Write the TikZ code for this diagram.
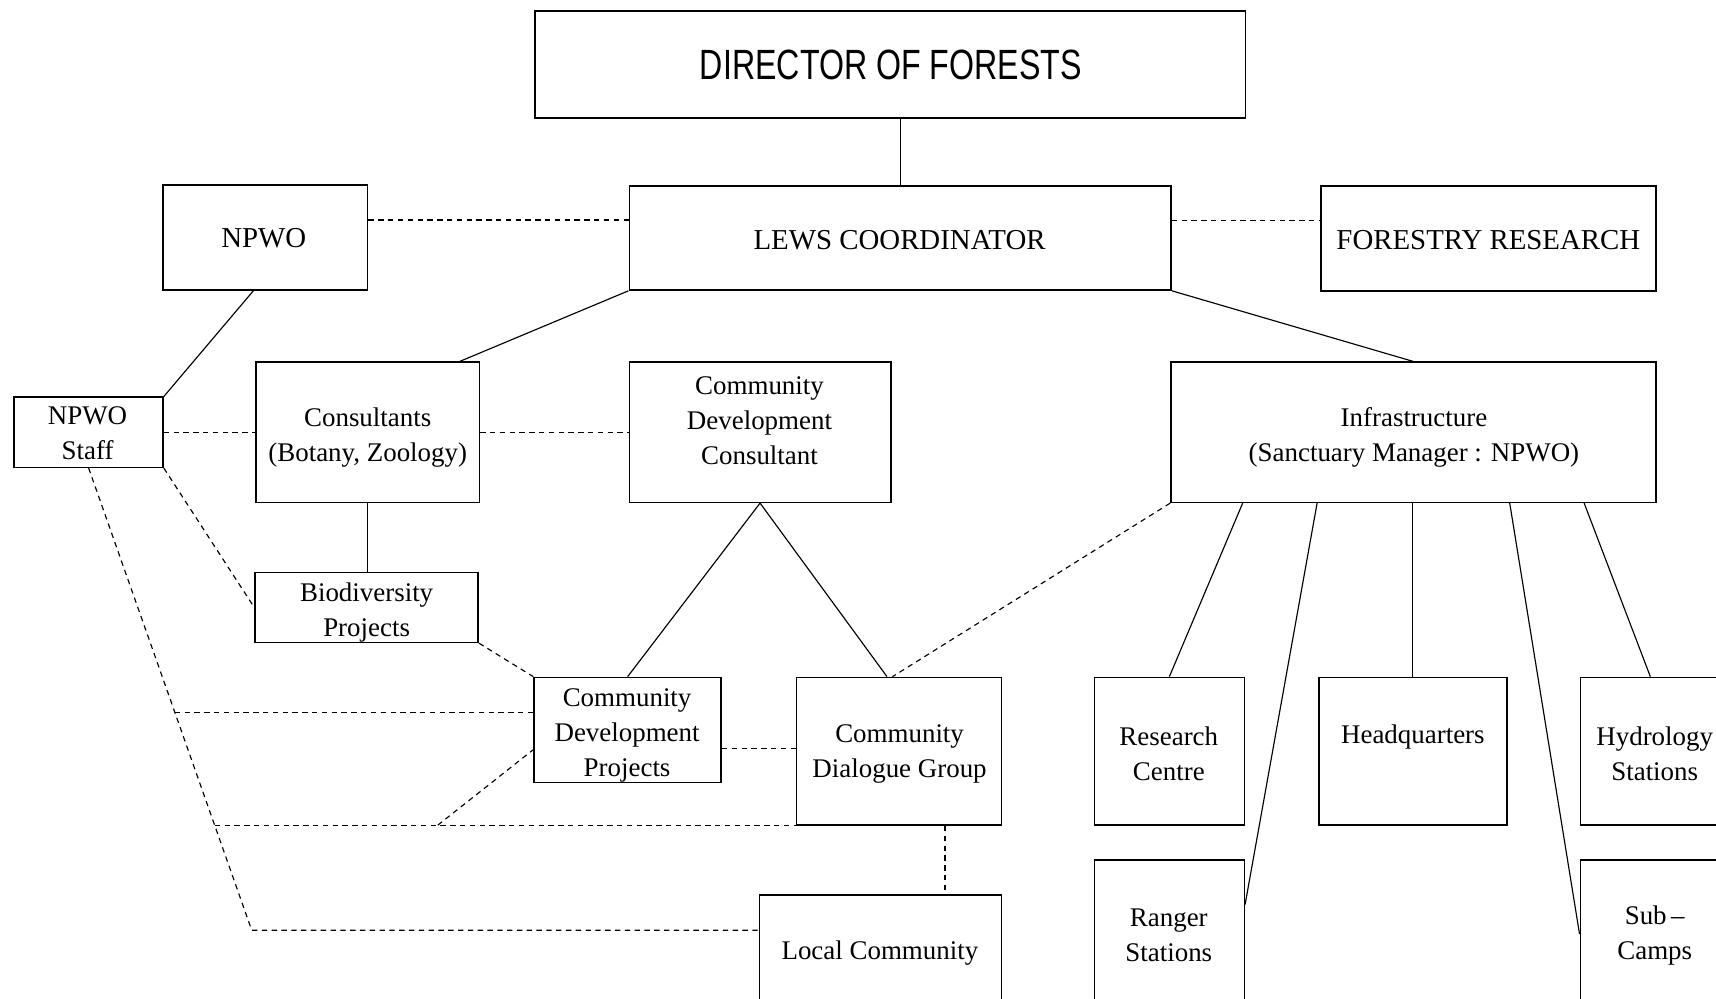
\documentclass[tikz,border=0pt]{standalone}
\usepackage{fontspec}
\setmainfont{Liberation Serif}
\newfontfamily\headfont[FakeStretch=0.76]{Liberation Sans}
\usepackage{tikz}
\usetikzlibrary{calc}

\newlength\unitpx
\setlength\unitpx{0.2mm}

\tikzset{
    box/.style 2 args={draw, line width=0.8pt, minimum width=#1*\unitpx, minimum height=#2*\unitpx, inner sep=0pt},
    txt/.style={align=center, inner sep=0pt, font=\fontsize{14}{18.2}\selectfont},
    caps/.style={txt, font=\fontsize{15}{18.2}\selectfont},
    link/.style={line width=0.6pt},
    dotlink/.style={line width=0.6pt, dash pattern=on 2.8pt off 2.3pt}
}

\begin{document}
\begin{tikzpicture}[x=0.2mm, y=-0.2mm]
        \clip (0,0) rectangle (1568,912);

        % Boxes, top level
        \node[box={649}{98}] (dir) at (813.5,59) {};
        \node[box={187}{96}] (npwo) at (242.5,217) {};
        \node[box={495}{95}] (lews) at (822.5,217.5) {};
        \node[box={306}{96}] (fres) at (1360,218) {};

        % Second row
        \node[box={136}{64}] (staff) at (81,395) {};
        \node[box={204}{128}] (cons) at (336,395) {};
        \node[box={239}{128}] (cdc) at (694.5,395) {};
        \node[box={443}{128}] (infra) at (1291.5,395) {};

        % Projects and groups
        \node[box={204}{64}] (bio) at (335,555) {};
        \node[box={171}{96}] (cdp) at (573.5,667) {};
        \node[box={187}{135}] (cdg) at (821.5,686.5) {};
        \node[box={221}{135}] (lc) at (804.5,885.5) {};

        % Infrastructure units
        \node[box={137}{135}] (rc) at (1068.5,686.5) {};
        \node[box={172}{135}] (hq) at (1291,686.5) {};
        \node[box={136}{135}] (hyd) at (1512,686.5) {};
        \node[box={137}{135}] (rs) at (1068.5,853.5) {};
        \node[box={136}{135}] (sub) at (1512,853.5) {};

        % Labels
        \node[txt, font=\headfont\fontsize{22}{26}\selectfont] (dir-t) at (814,59) {DIRECTOR OF FORESTS};
        \node[caps] (npwo-t) at (241,218) {NPWO};
        \node[caps] (lews-t) at (822,219) {LEWS COORDINATOR};
        \node[caps] (fres-t) at (1360,219) {FORESTRY RESEARCH};
        \node[txt] (staff-t) at (80,396) {NPWO\\Staff};
        \node[txt] (cons-t) at (336,400) {Consultants\\(Botany, Zoology)};
        \node[txt] (cdc-t) at (694,384) {Community\\Development\\Consultant};
        \node[txt] (infra-t) at (1292,400) {Infrastructure\\(Sanctuary Manager : NPWO)};
        \node[txt] (bio-t) at (335,560) {Biodiversity\\Projects};
        \node[txt] (cdp-t) at (573,672) {Community\\Development\\Projects};
        \node[txt] (cdg-t) at (822,689) {Community\\Dialogue Group};
        \node[txt] (lc-t) at (804,871) {Local Community};
        \node[txt] (rc-t) at (1068,689) {Research\\Centre};
        \node[txt] (hq-t) at (1291,673) {Headquarters};
        \node[txt] (hyd-t) at (1512,689) {Hydrology\\Stations};
        \node[txt] (rs-t) at (1068,855) {Ranger\\Stations};
        \node[txt] (sub-t) at (1512,855) {Sub\,--\\Camps};

        % Line management
        \draw[link] (dir.south -| lews.north) -- (lews.north);
        \draw[link] ([xshift=-11*\unitpx]npwo.south) -- (staff.north east);
        \draw[link] (lews.south west) -- ([xshift=84*\unitpx]cons.north);
        \draw[link] (lews.south east) -- (infra.north);
        \draw[link] (cons.south) -- (cons.south |- bio.north);
        \draw[link] (cdc.south) -- (cdp.north);
        \draw[link] (cdc.south) -- ([xshift=-11*\unitpx]cdg.north);
        \draw[link] ([xshift=-156*\unitpx]infra.south) -- (rc.north);
        \draw[link] ([xshift=-88*\unitpx]infra.south) -- ([yshift=27*\unitpx]rs.east);
        \draw[link] (hq.north |- infra.south) -- (hq.north);
        \draw[link] ([xshift=88*\unitpx]infra.south) -- (sub.west);
        \draw[link] ([xshift=156*\unitpx]infra.south) -- ([xshift=-4*\unitpx]hyd.north);

        % Liaison lines
        \draw[dotlink] ([yshift=16*\unitpx]npwo.east) -- ([yshift=16*\unitpx]npwo.east -| lews.west);
        \draw[dotlink] ([yshift=16*\unitpx]lews.east) -- ([yshift=16*\unitpx]lews.east -| fres.west);
        \draw[dotlink] (staff.east) -- (staff.east -| cons.west);
        \draw[dotlink] (cons.east) -- (cons.east -| cdc.west);
        \draw[dotlink] (staff.south east) -- (bio.west);
        \draw[dotlink] (bio.south east) -- (cdp.north west);
        \draw[dotlink] (infra.south west) -- ([xshift=-6*\unitpx]cdg.north);
        \draw[dotlink] ([yshift=-17*\unitpx]cdp.east) -- ([yshift=-17*\unitpx]cdp.east -| cdg.west);
        \draw[dotlink] ([xshift=42*\unitpx]cdg.south) -- ([xshift=42*\unitpx]cdg.south |- lc.north);

        % NPWO staff down to the community
        \coordinate (bend) at (230,850);
        \coordinate (tapA) at ($(staff.south)!0.528!(bend)$);
        \coordinate (tapB) at ($(staff.south)!0.774!(bend)$);
        \coordinate (fork) at (400,754);
        \draw[dotlink] (staff.south) -- (bend) -- (bend -| lc.west);
        \draw[dotlink] (tapA) -- (tapA -| cdp.west);
        \draw[dotlink] (tapB) -- (tapB -| cdg.south west);
        \draw[dotlink] (fork) -- ([yshift=-18*\unitpx]cdp.west);
\end{tikzpicture}
\end{document}
